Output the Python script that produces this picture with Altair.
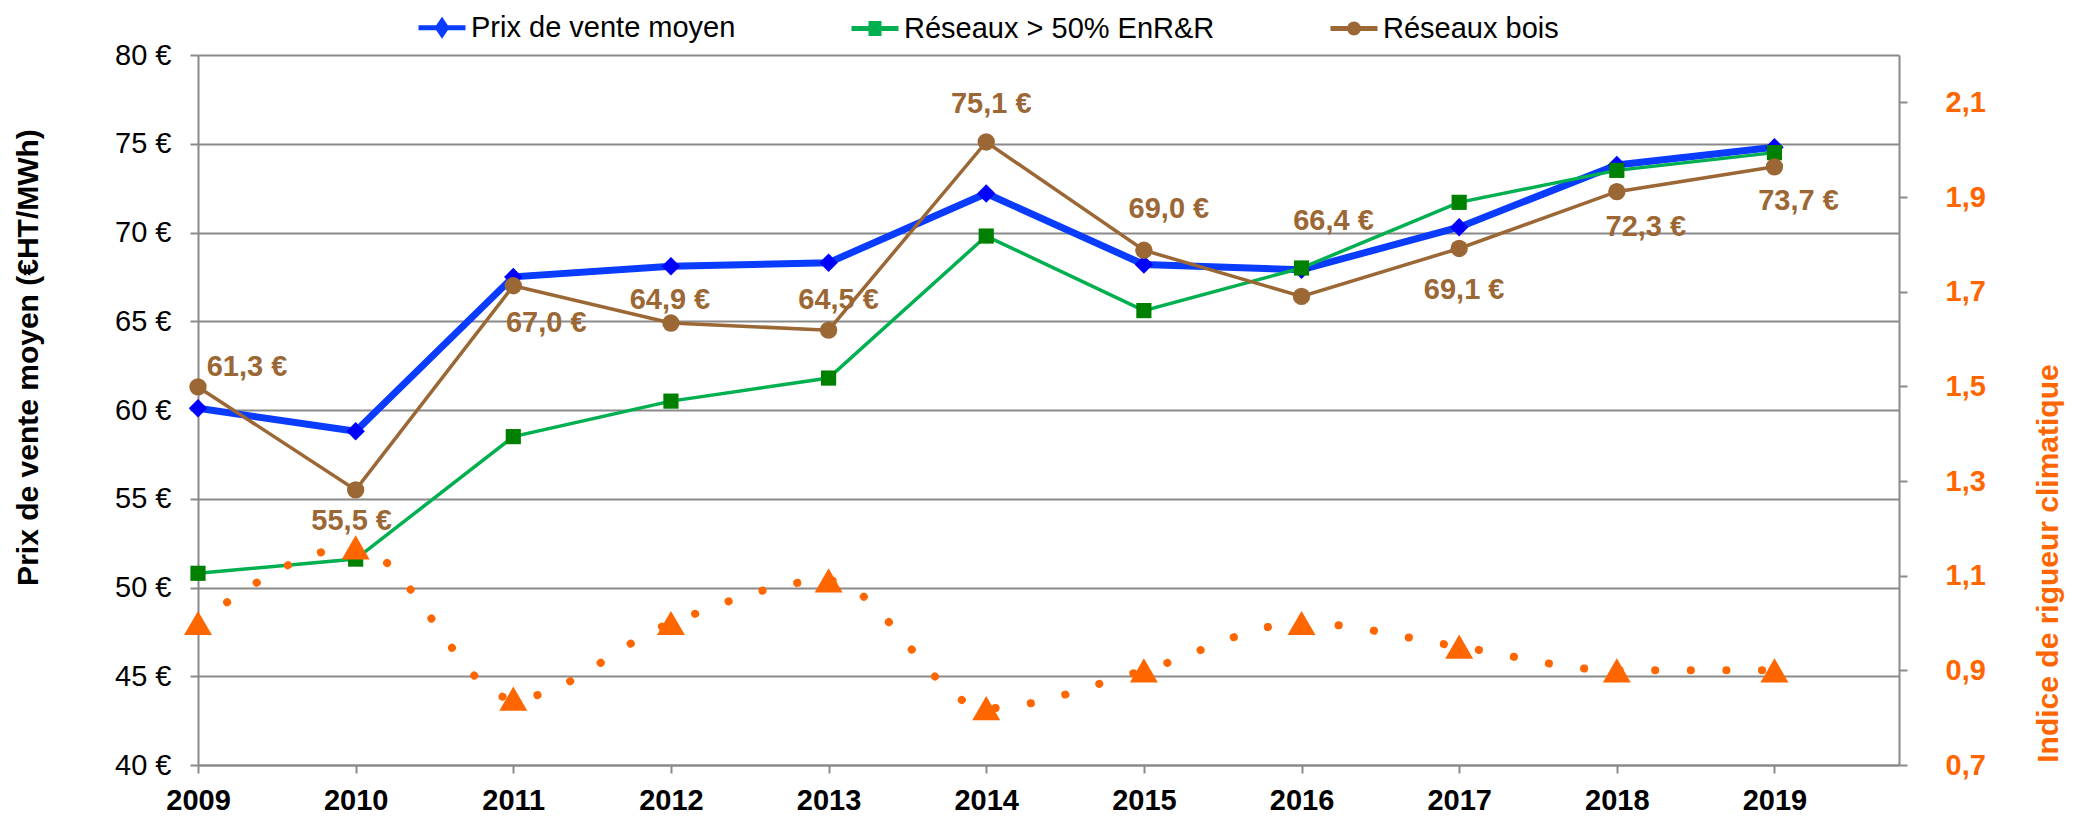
import altair as alt
import pandas as pd

# ---------------- data ----------------
YEARS = [2009, 2010, 2011, 2012, 2013, 2014, 2015, 2016, 2017, 2018, 2019]
SERIES = ["Prix de vente moyen", "Réseaux > 50% EnR&R", "Réseaux bois"]
PRIX_MOYEN = [60.1, 58.8, 67.5, 68.1, 68.3, 72.2, 68.2, 67.9, 70.3, 73.8, 74.8]
RESEAUX_ENR = [50.8, 51.6, 58.5, 60.5, 61.8, 69.8, 65.6, 68.0, 71.7, 73.5, 74.5]
RESEAUX_BOIS = [61.3, 55.5, 67.0, 64.9, 64.5, 75.1, 69.0, 66.4, 69.1, 72.3, 73.7]
RIGUEUR = [1.00, 1.16, 0.84, 1.00, 1.09, 0.82, 0.90, 1.00, 0.95, 0.90, 0.90]
LEFT_TICKS = [40, 45, 50, 55, 60, 65, 70, 75, 80]
RIGHT_TICKS = [0.7, 0.9, 1.1, 1.3, 1.5, 1.7, 1.9, 2.1]

# ---------------- styles ----------------
FONT = "Liberation Sans, Arial, sans-serif"
GRID = "#8a8a8a"
LINE_COLORS = ["#0a3cff", "#00b050", "#9b6735"]
MARKER_COLORS = ["#0000ff", "#008000", "#9b6735"]
LINE_WIDTHS = [7, 3.5, 3.5]
MARKER_SHAPES = ["diamond", "square", "circle"]
MARKER_SIZES = [340, 230, 300]
ORANGE = "#ff6600"
BROWN_TXT = "#9b6735"
# legend glyphs: line + marker, unit space of a 47px legend symbol
LEG_PATHS = [
    "M-1,0L1,0M0,-0.28L0.19,0L0,0.28L-0.19,0Z",
    "M-1,0L1,0M-0.17,-0.21L0.17,-0.21L0.17,0.21L-0.17,0.21Z",
    "M-1,0L1,0M-0.19,0A0.19,0.19,0,1,0,0.19,0A0.19,0.19,0,1,0,-0.19,0Z",
]
# placement of the "Réseaux bois" value labels (dx, dy in px)
LABEL_OFFSETS = [(49, -20), (-4, 31), (33, 37), (-1, -23), (10, -30), (5, -38),
                 (25, -41), (32, -75), (5, 42), (29, 35), (24, 34)]

W, H = 1701, 710

df = pd.DataFrame(
    [
        {"year": y, "series": s, "value": v}
        for s, vals in zip(SERIES, [PRIX_MOYEN, RESEAUX_ENR, RESEAUX_BOIS])
        for y, v in zip(YEARS, vals)
    ]
)
df["label"] = df["value"].map(lambda v: f"{v:.1f}".replace(".", ",") + " €")
df_r = pd.DataFrame({"year": YEARS, "rig": RIGUEUR})

x_scale = alt.Scale(domain=[2009, 2019.79], nice=False, zero=False)
x_axis = alt.Axis(
    values=YEARS, format="d", title=None, grid=False,
    labelFont=FONT, labelFontSize=29, labelFontWeight="bold", labelColor="black",
    labelPadding=13, labelFlush=False, labelOverlap=False,
    tickSize=8, tickColor=GRID, tickWidth=2,
    domainColor=GRID, domainWidth=2,
)
y_scale = alt.Scale(domain=[40, 80], nice=False, zero=False)
y_axis = alt.Axis(
    values=LEFT_TICKS, labelExpr="datum.value + ' €'",
    labelFont=FONT, labelFontSize=29, labelColor="black", labelPadding=19,
    tickSize=8, tickColor=GRID, tickWidth=2,
    domainColor=GRID, domainWidth=2,
    grid=True, gridColor=GRID, gridWidth=2,
    title="Prix de vente moyen (€HT/MWh)",
    titleFont=FONT, titleFontSize=30, titleFontWeight="bold", titleColor="black",
    titleAngle=270, titleBaseline="bottom", titleAlign="center",
    titleX=-155, titleY=302,
)

leg = alt.Legend(
    orient="none", legendX=218, legendY=-53.5, direction="horizontal", title=None,
    symbolSize=2209, symbolStrokeWidth=5,
    labelFont=FONT, labelFontSize=29, labelColor="black", labelOffset=3,
    columnPadding=105, padding=0, labelLimit=1000,
)

X0 = alt.X("year:Q", scale=x_scale, axis=x_axis)
Xs = alt.X("year:Q", scale=x_scale)
Y0 = alt.Y("value:Q", scale=y_scale, axis=y_axis)
Ys = alt.Y("value:Q", scale=y_scale)

layers = []
for i, s in enumerate(SERIES):
    sub = df[df["series"] == s]
    line = alt.Chart(sub).mark_line(strokeWidth=LINE_WIDTHS[i]).encode(
        x=X0 if i == 0 else Xs,
        y=Y0 if i == 0 else Ys,
        stroke=alt.Stroke("series:N", scale=alt.Scale(domain=SERIES, range=LINE_COLORS), legend=leg),
    )
    pts = alt.Chart(sub).mark_point(
        shape=MARKER_SHAPES[i], filled=True, size=MARKER_SIZES[i],
        color=MARKER_COLORS[i], opacity=1,
    ).encode(x=Xs, y=Ys)
    layers += [line, pts]

# legend-only layer carrying the marker glyphs (merged with the stroke legend)
leg_markers = alt.Chart(df).transform_filter("false").mark_point(filled=True, opacity=1).encode(
    x=Xs, y=Ys,
    shape=alt.Shape("series:N", scale=alt.Scale(domain=SERIES, range=LEG_PATHS), legend=leg),
    fill=alt.Fill("series:N", scale=alt.Scale(domain=SERIES, range=MARKER_COLORS), legend=leg),
)
layers.append(leg_markers)

# value labels for "Réseaux bois"
bois = df[df["series"] == SERIES[2]].reset_index(drop=True)
for k, (dx, dy) in enumerate(LABEL_OFFSETS):
    lab = alt.Chart(bois.iloc[[k]]).mark_text(
        font=FONT, fontSize=29, fontWeight="bold", color=BROWN_TXT,
        align="center", baseline="middle", dx=dx, dy=dy,
    ).encode(x=Xs, y=Ys, text="label:N")
    layers.append(lab)

left = alt.layer(*layers)

r_scale = alt.Scale(domain=[0.7, 2.2], nice=False, zero=False)
r_axis = alt.Axis(
    orient="right", values=RIGHT_TICKS,
    labelExpr="replace(format(datum.value, '.1f'), '.', ',')",
    labelFont=FONT, labelFontSize=29, labelFontWeight="bold", labelColor=ORANGE,
    labelPadding=38, labelAlign="left",
    tickSize=8, tickColor=GRID, tickWidth=2,
    domainColor=GRID, domainWidth=2, grid=False,
    title="Indice de rigueur climatique",
    titleFont=FONT, titleFontSize=30, titleFontWeight="bold", titleColor=ORANGE,
    titleAngle=270, titleBaseline="bottom", titleAlign="center",
    titleX=164, titleY=508,
)
dots = alt.Chart(df_r).mark_line(
    interpolate="monotone", color=ORANGE, strokeWidth=8,
    strokeDash=[0.1, 35.5], strokeCap="round",
).encode(x=Xs, y=alt.Y("rig:Q", scale=r_scale, axis=r_axis))
tris = alt.Chart(df_r).mark_point(
    shape="triangle-up", filled=True, size=784, color=ORANGE, opacity=1,
).encode(x=Xs, y=alt.Y("rig:Q", scale=r_scale))
right = alt.layer(dots, tris)

chart = (
    alt.layer(left, right)
    .resolve_scale(y="independent")
    .properties(
        width=W, height=H,
        padding={"left": 190, "top": 47, "right": 166, "bottom": 51},
        autosize=alt.AutoSizeParams(type="none"),
        background="white",
    )
    .configure_view(stroke=None)
)

chart.save("out.html", embed_options={"renderer": "svg", "actions": False})
